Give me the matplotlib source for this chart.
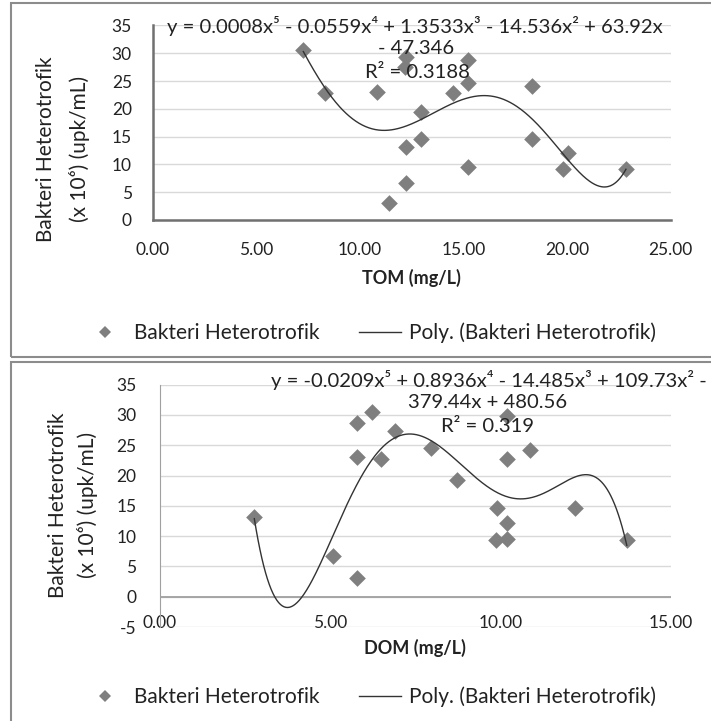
import numpy as np
import matplotlib
matplotlib.use("Agg")
import matplotlib.pyplot as plt
from matplotlib.lines import Line2D
from matplotlib.patches import Rectangle

plt.rcParams['font.family'] = ['Lato', 'DejaVu Sans']
plt.rcParams['axes.unicode_minus'] = False

# nilai
tom = [7.27, 8.33, 10.83, 12.21, 12.18, 12.95, 12.95, 12.21, 12.21, 11.42,
       14.51, 15.23, 15.23, 15.23, 18.29, 18.29, 20.06, 19.82, 22.84]
bakteri_tom = [30.6, 22.9, 23.0, 29.4, 27.5, 19.4, 14.5, 13.2, 6.6, 3.1,
               22.8, 28.7, 24.7, 9.6, 24.1, 14.5, 12.1, 9.2, 9.2]

dom = [2.77, 5.08, 5.80, 5.80, 5.80, 6.23, 6.50, 6.91, 7.97, 8.71,
       9.90, 10.18, 9.88, 10.18, 10.18, 10.18, 10.86, 12.19, 13.71]
bakteri_dom = [13.2, 6.8, 3.1, 28.6, 23.1, 30.5, 22.8, 27.4, 24.6, 19.3,
               14.7, 12.1, 9.4, 9.5, 29.8, 22.7, 24.2, 14.6, 9.4]

persamaan_tom = ["y = 0.0008x\u2075 - 0.0559x\u2074 + 1.3533x\u00b3 - 14.536x\u00b2 + 63.92x",
                 "- 47.346", "R\u00b2 = 0.3188"]
persamaan_dom = ["y = -0.0209x\u2075 + 0.8936x\u2074 - 14.485x\u00b3 + 109.73x\u00b2 -",
                 "379.44x + 480.56", "R\u00b2 = 0.319"]

W, H = 711, 721
def fx(px):
    return px / W
def fy(py):
    return 1 - py / H

ABU = '#7f7f7f'
GRID = '#d9d9d9'

fig = plt.figure(figsize=(W / 100, H / 100), dpi=100)

# bingkai panel
fig.patches.append(Rectangle((fx(11), fy(357)), 1.2, fy(3) - fy(357), transform=fig.transFigure,
                             fill=False, ec='#8c8c8c', lw=1.5))
fig.patches.append(Rectangle((fx(11), -0.2), 1.2, fy(362) + 0.2, transform=fig.transFigure,
                             fill=False, ec='#8c8c8c', lw=1.5))


def panel(ax, x, y, ymin, xmax, xlabel):
    ax.set_xlim(0, xmax)
    ax.set_ylim(ymin, 35)
    ax.set_yticks(np.arange(ymin, 36, 5))
    ax.set_xticks(np.arange(0, xmax + 0.1, 5))
    ax.xaxis.set_major_formatter(lambda v, p: f"{v:.2f}")
    ax.grid(axis='y', color=GRID, lw=1)
    ax.set_axisbelow(True)
    for s in ['top', 'right']:
        ax.spines[s].set_visible(False)
    ax.tick_params(length=0, labelsize=12.5, colors='#222222')
    ax.scatter(x, y, marker='D', s=72, color=ABU, zorder=3, linewidths=0)
    koef = np.polyfit(x, y, 5)
    xs = np.linspace(min(x), max(x), 400)
    ax.plot(xs, np.polyval(koef, xs), color='#333333', lw=1, zorder=4)
    ax.set_xlabel(xlabel, fontsize=13, fontweight='bold', color='#222222')


ax1 = fig.add_axes([fx(152.7), fy(220), (670.7 - 152.7) / W, (220 - 25.4) / H])
panel(ax1, tom, bakteri_tom, 0, 25, "TOM (mg/L)")
ax1.spines['left'].set_color('#707070')
ax1.spines['bottom'].set_color('#707070')
ax1.spines['left'].set_linewidth(1.8)
ax1.spines['bottom'].set_linewidth(1.8)
ax1.tick_params(axis='y', pad=15)
ax1.tick_params(axis='x', pad=16)
ax1.xaxis.labelpad = 8

ax2 = fig.add_axes([fx(160), fy(627), (670.7 - 160) / W, (627 - 384.7) / H])
panel(ax2, dom, bakteri_dom, -5, 15, "DOM (mg/L)")
ax2.spines['bottom'].set_visible(False)
ax2.spines['left'].set_color('#a0a0a0')
ax2.axhline(0, color='#a0a0a0', lw=1.3, zorder=2)
ax2.tick_params(axis='y', pad=17)
ax2.tick_params(axis='x', pad=-9)
ax2.xaxis.labelpad = 6

# persamaan trendline
for teks, xp, yp in zip(persamaan_tom, [415, 416, 417], [26, 49, 73]):
    fig.text(fx(xp), fy(yp), teks, ha='center', va='center', fontsize=14.6, color='#222222')
for teks, xp, yp in zip(persamaan_dom, [489, 487.5, 487.5], [380, 403, 427]):
    fig.text(fx(xp), fy(yp), teks, ha='center', va='center', fontsize=14.6, color='#222222')

# label sumbu y
for xs_, ys_ in [((46.5, 79), 149), ((58, 88), 505)]:
    fig.text(fx(xs_[0]), fy(ys_), "Bakteri Heterotrofik", rotation=90, ha='center', va='center',
             fontsize=15, color='#222222')
    fig.text(fx(xs_[1]), fy(ys_), "(x 10\u2076) (upk/mL)", rotation=90, ha='center', va='center',
             fontsize=15, color='#222222')

# legenda
handles = [Line2D([], [], marker='D', ls='none', color=ABU, markersize=6.5, mew=0),
           Line2D([], [], color='#333333', lw=1)]
labels = ["Bakteri Heterotrofik", "Poly. (Bakteri Heterotrofik)"]
for yp in [333, 697]:
    fig.legend(handles, labels, loc='center', bbox_to_anchor=(fx(370), fy(yp)), ncol=2,
               frameon=False, fontsize=15, handlelength=2.0, handletextpad=0.4,
               columnspacing=1.9, labelcolor='#222222')

fig.savefig("out.png", dpi=100)
